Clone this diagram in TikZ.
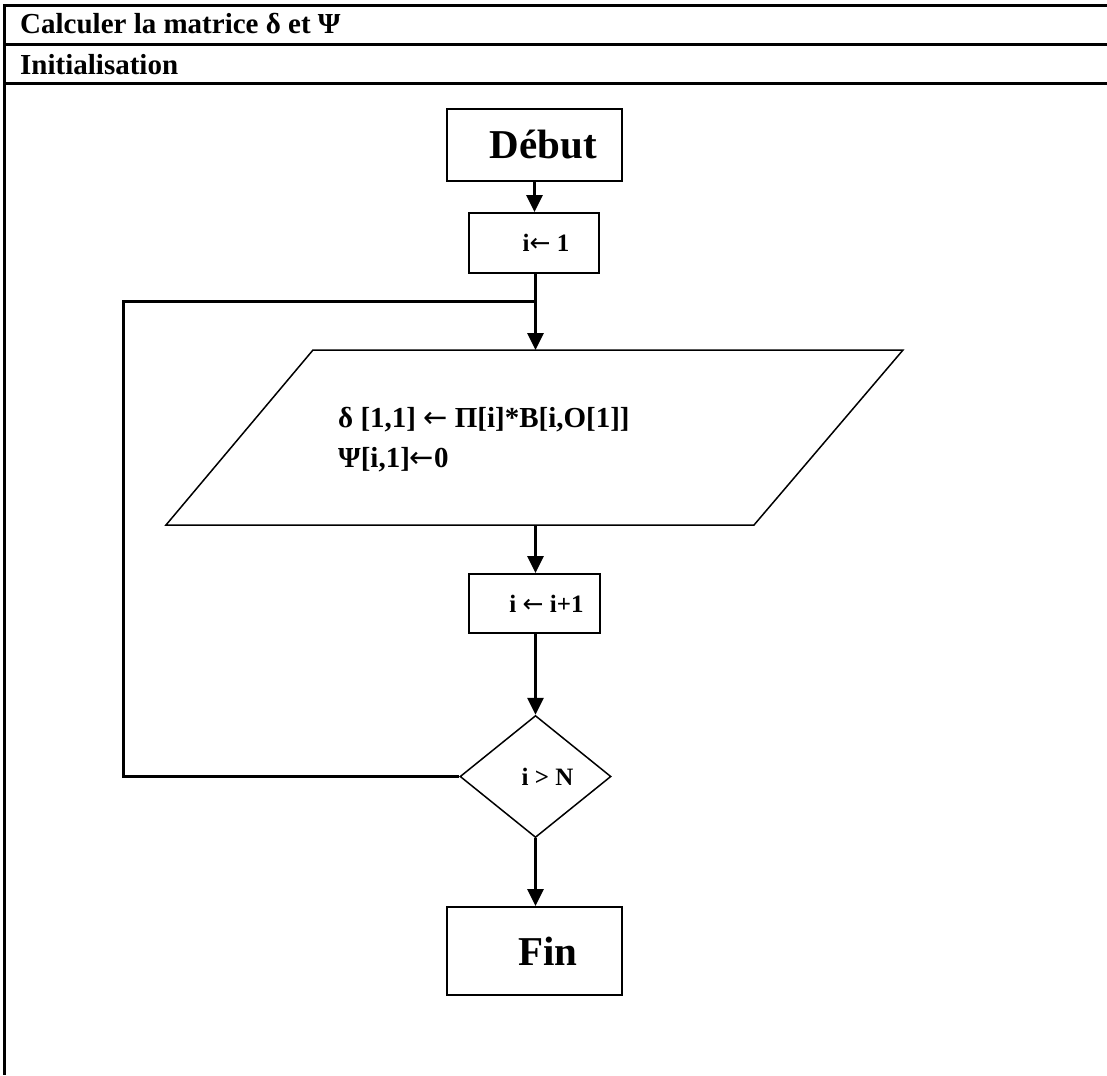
\documentclass[tikz,border=0pt]{standalone}
\usepackage{fontspec}
\setmainfont{Liberation Serif}
\newfontfamily\arrowfont{DejaVu Sans}
\newcommand{\assignarrow}{{\arrowfont\mdseries ←}}
\usetikzlibrary{arrows.meta,shapes.geometric}
\begin{document}
\begin{tikzpicture}[x=1pt,y=-1pt,
  every node/.style={font=\bfseries},
  frame/.style={line width=3pt},
  link/.style={line width=3pt},
  flow/.style={link,-{Triangle[length=17pt,width=16pt]}},
  box/.style={draw,rectangle,line width=1.8pt,inner sep=0pt},
  outline/.style={line width=1.5pt,line join=miter},
  bigtext/.style={font=\bfseries\fontsize{41}{44}\selectfont},
  midtext/.style={font=\bfseries\fontsize{25}{30}\selectfont},
  headtext/.style={font=\bfseries\fontsize{29}{34}\selectfont,anchor=base west,inner sep=0pt}]
\useasboundingbox (0,0) rectangle (1107,1075);

% table frame with its two header rows
\draw[frame] (1107,5.5) -- (4.5,5.5) -- (4.5,1075);
\draw[frame] (4.5,44.5) -- (1107,44.5);
\draw[frame] (4.5,84) -- (1107,84);
\node[headtext] (title) at (20,34) {Calculer la matrice δ et Ψ};
\node[headtext] (step1) at (20,75) {Initialisation};

% flowchart blocks
\node[box,bigtext,minimum width=175,minimum height=72] (debut) at (534.5,145) {\hspace*{18pt}Début};
\node[box,midtext,minimum width=130,minimum height=60] (init) at (534,243) {\hspace*{24pt}i\assignarrow\ 1};

% parallelogram holding the assignments
\coordinate (pTL) at (313,350);
\coordinate (pTR) at (903,350);
\coordinate (pBR) at (754,525);
\coordinate (pBL) at (166,525);
\draw[outline] (pTL) -- (pTR) -- (pBR) -- (pBL) -- cycle;
\node[font=\bfseries\fontsize{29}{40}\selectfont,align=left,anchor=west,inner sep=0pt] (calctext) at (338,440)
  {δ [1,1] \assignarrow\ Π[i]*B[i,O[1]]\\Ψ[i,1]\assignarrow 0};

\node[box,midtext,minimum width=131,minimum height=59] (incr) at (534.5,603.5) {\hspace*{24pt}i \assignarrow\ i+1};
\node[draw,diamond,line width=1.5pt,inner sep=0pt,minimum width=151,minimum height=122,midtext] (test) at (535.5,776.5) {\hspace*{24pt}i > N};
\node[box,bigtext,minimum width=175,minimum height=88] (fin) at (534.5,951) {\hspace*{27pt}Fin};

% connectors
\coordinate (corner) at (123,301);
\coordinate (join) at (535.5,301);
\draw[flow] (debut.south) -- (debut.south |- init.north);
\draw[flow] (join |- init.south) -- (join |- pTL);
\draw[link] (test.west) -| (corner) -- (join);
\draw[flow] (join |- pBL) -- (join |- incr.north);
\draw[flow] (join |- incr.south) -- (test.north);
\draw[flow] (test.south) -- (test.south |- fin.north);
\end{tikzpicture}
\end{document}
